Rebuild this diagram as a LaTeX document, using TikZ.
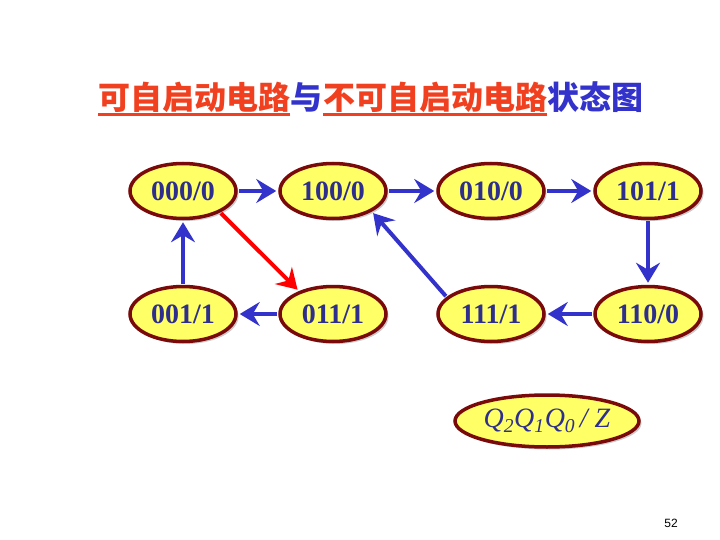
\documentclass[tikz,border=0pt]{standalone}
\usepackage{fontspec}
\setmainfont{Liberation Serif}
\newfontfamily\cjk{Noto Sans CJK SC}
\newfontfamily\pgnum{Liberation Sans}
\usetikzlibrary{arrows.meta,positioning,shapes.geometric,shadows}
\definecolor{ttl}{HTML}{F04020}
\definecolor{blu}{HTML}{3333CC}
\definecolor{ink}{HTML}{2E2E8C}
\definecolor{rim}{HTML}{7A0A0A}
\definecolor{egg}{HTML}{FFFF66}
\tikzset{
  state/.style={ellipse, draw=rim, line width=3.5pt, fill=egg, minimum width=106pt, minimum height=55pt,
    inner sep=0pt, text=ink, font=\fontsize{28}{28}\selectfont\bfseries,
    drop shadow={shadow xshift=2.5pt, shadow yshift=-2.5pt, fill=gray!80}},
  go/.style={line width=4pt, blu, -{Stealth[length=20pt,width=24pt,inset=7pt]}, shorten >=2pt, shorten <=1pt},
  hot/.style={go, red},
  ttlpart/.style={inner sep=0pt, font=\fontsize{32}{32}\selectfont\cjk\bfseries},
  uline/.style={ttl, line width=2.5pt},
}

\begin{document}
\begin{tikzpicture}[x=1pt,y=-1pt]
 \useasboundingbox (0,0) rectangle (720,540);
 % title
 \node[ttlpart, text=ttl, anchor=west] (ta) at (98,97) {可自启动电路};
 \node[ttlpart, text=blu, right=0pt of ta] (tb) {与};
 \node[ttlpart, text=ttl, right=0pt of tb] (tc) {不可自启动电路};
 \node[ttlpart, text=blu, right=0pt of tc] (td) {状态图};
 \draw[uline] ([yshift=-2pt]ta.south west) -- ([yshift=-2pt]ta.south east);
 \draw[uline] ([yshift=-2pt]tc.south west) -- ([yshift=-2pt]tc.south east);
 % states
 \node[state] (s000) at (183,191) {000/0};
 \node[state] (s100) at (333,191) {100/0};
 \node[state] (s010) at (491,191) {010/0};
 \node[state] (s101) at (648,191) {101/1};
 \node[state] (s001) at (183,314) {001/1};
 \node[state] (s011) at (333,314) {011/1};
 \node[state] (s111) at (491,314) {111/1};
 \node[state] (s110) at (648,314) {110/0};
 % transitions
 \draw[go] (s000) -- (s100);
 \draw[go] (s100) -- (s010);
 \draw[go] (s010) -- (s101);
 \draw[go] (s101) -- (s110);
 \draw[go] (s110) -- (s111);
 \draw[go] (s111.159) -- (s100.-28);
 \draw[go] (s011) -- (s001);
 \draw[go] (s001) -- (s000);
 \draw[hot] (s000.-30) -- (s011.146);
 % key
 \node[state, minimum width=184pt, minimum height=52pt, font=\fontsize{28}{28}\selectfont\itshape]
   (key) at (547,421) {Q\textsubscript{2}Q\textsubscript{1}Q\textsubscript{0}\,/ Z};
 \node[font=\pgnum\fontsize{12}{12}\selectfont] (pg) at (671,523) {52};
\end{tikzpicture}
\end{document}
